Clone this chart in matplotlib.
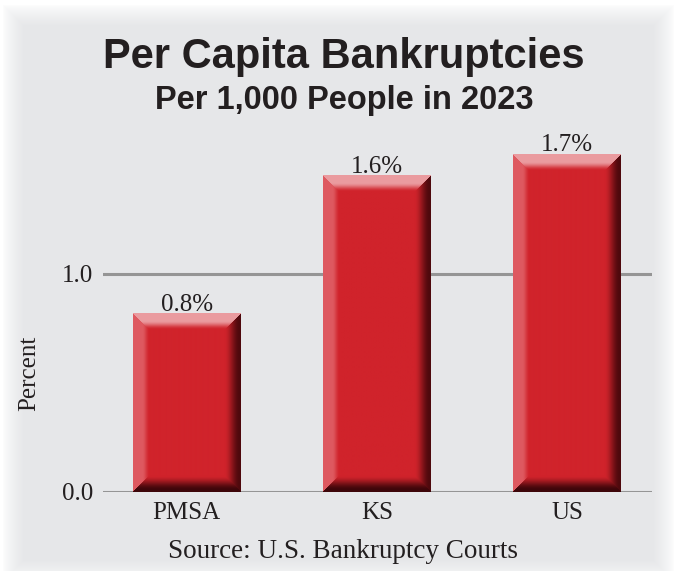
import numpy as np
import matplotlib
matplotlib.use("Agg")
import matplotlib.pyplot as plt
from matplotlib import font_manager

# data
categories = ["PMSA", "KS", "US"]
values = [0.82, 1.45, 1.55]
value_labels = ["0.8%", "1.6%", "1.7%"]
y_ticks = [0.0, 1.0]
y_tick_labels = ["0.0", "1.0"]

title = "Per Capita Bankruptcies"
subtitle = "Per 1,000 People in 2023"
source = "Source: U.S. Bankruptcy Courts"

names = {f.name for f in font_manager.fontManager.ttflist}
title_font = "Liberation Sans Narrow" if "Liberation Sans Narrow" in names else "Liberation Sans"
serif_font = "Liberation Serif"
ink = "#231f20"

W, H, DPI = 686, 571, 100
fig = plt.figure(figsize=(W / DPI, H / DPI), dpi=DPI)

# background: grey panel fading to white at the edges
bg = fig.add_axes([0, 0, 1, 1])
yy, xx = np.mgrid[0:H, 0:W]
d = np.minimum.reduce([xx - 2.0, W - 12.0 - xx, yy - 4.0, H + 10.0 - yy])
t = np.clip(d / 22.0, 0, 1) ** 0.7
grey = np.array([230, 231, 233]) / 255.0
img = 1.0 - t[..., None] * (1.0 - grey)
bg.imshow(img, extent=(0, 1, 0, 1), aspect="auto", interpolation="bilinear")
bg.axis("off")

ax = fig.add_axes([103 / W, 79 / H, 549 / W, 1.6 * 218 / H])
ax.set_facecolor("none")
ax.set_xlim(-0.44, 2.447)
ax.set_ylim(0, 1.6)

for yv in y_ticks:
    ax.axhline(yv, color="#959595", lw=2.2, zorder=1)

x = np.arange(len(categories))
bars = ax.bar(x, values, width=0.563, color="#d0232b", zorder=2)


def smooth(v):
    v = np.clip(v, 0, 1)
    return v * v * (3 - 2 * v)


def bevel_image(wpx, hpx, b=16):
    base = np.array([208, 35, 43]) / 255.0
    iy, ix = np.mgrid[0:hpx, 0:wpx]
    dt = iy.astype(float)
    db = hpx - 1 - iy.astype(float)
    dl = ix.astype(float)
    dr = wpx - 1 - ix.astype(float)
    stack = np.stack([dt, db, dl, dr])
    which = np.argmin(stack, axis=0)
    dmin = np.min(stack, axis=0)
    edge_cols = np.array([
        [236, 162, 166],   # top
        [62, 6, 10],       # bottom
        [224, 96, 102],    # left
        [78, 9, 13],       # right
    ]) / 255.0
    r = 1 - dmin / b
    w = np.select(
        [which == 0, which == 1, which == 2, which == 3],
        [0.95 * smooth(r * 1.8), smooth(r * 1.1), 0.9 * smooth(r * 2.2), smooth(r * 1.05)],
    )
    ec = edge_cols[which]
    return base * (1 - w[..., None]) + ec * w[..., None]


for bar in bars:
    x0, x1 = bar.get_x(), bar.get_x() + bar.get_width()
    y0, y1 = 0, bar.get_height()
    p0 = ax.transData.transform((x0, y0))
    p1 = ax.transData.transform((x1, y1))
    wpx = max(int(round(p1[0] - p0[0])), 2)
    hpx = max(int(round(p1[1] - p0[1])), 2)
    ax.imshow(bevel_image(wpx, hpx), extent=(x0, x1, y0, y1),
              aspect="auto", interpolation="bilinear", zorder=3)

for bar, lab in zip(bars, value_labels):
    ax.text(bar.get_x() + bar.get_width() / 2, bar.get_height() + 0.012, lab,
            ha="center", va="baseline", fontsize=18, family=serif_font,
            color=ink, zorder=4)

ax.set_xlim(-0.44, 2.447)
ax.set_ylim(0, 1.6)
ax.set_yticks(y_ticks)
ax.set_yticklabels(y_tick_labels, family=serif_font, fontsize=18, color=ink)
ax.set_xticks(x)
ax.set_xticklabels(categories, family=serif_font, fontsize=18, color=ink)
ax.tick_params(axis="both", length=0)
ax.tick_params(axis="y", pad=7)
ax.tick_params(axis="x", pad=7)
for s in ax.spines.values():
    s.set_visible(False)

ax.set_ylabel("Percent", family=serif_font, fontsize=18, color=ink)
ax.yaxis.set_label_coords(-0.115, 0.341)

fig.text(344 / W, 1 - 57 / H, title, ha="center", va="center",
         family=title_font, fontweight="bold", fontsize=30, color=ink)
fig.text(344 / W, 1 - 101 / H, subtitle, ha="center", va="center",
         family=title_font, fontweight="bold", fontsize=23.5, color=ink)
fig.text(343 / W, 1 - 551 / H, source, ha="center", va="center",
         family=serif_font, fontsize=19.5, color=ink)

fig.savefig("out.png", dpi=DPI)
